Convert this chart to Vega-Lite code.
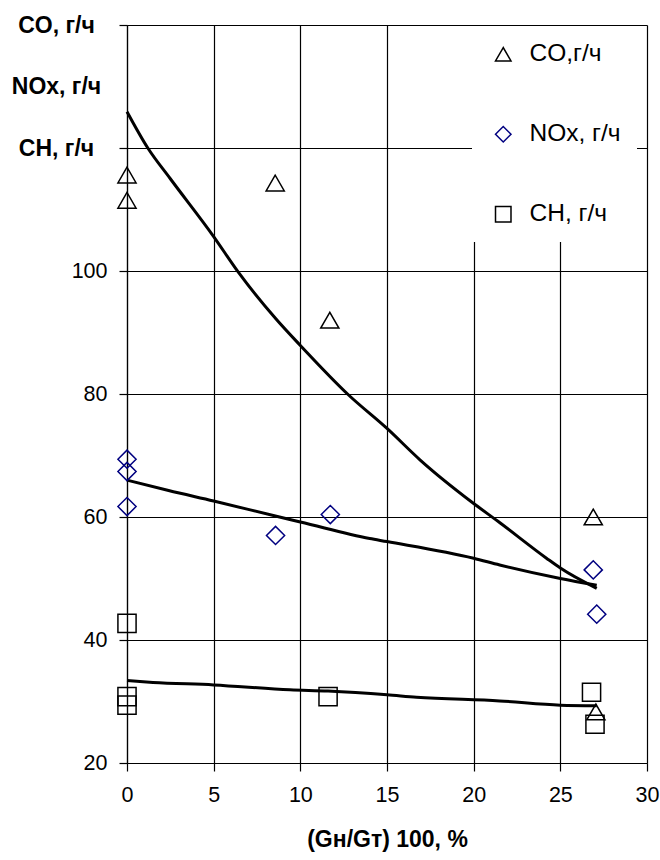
{
  "$schema": "https://vega.github.io/schema/vega-lite/v6.json",
  "width": 520,
  "height": 738,
  "autosize": "none",
  "padding": {"left": 127, "top": 25, "right": 13, "bottom": 97},
  "background": "white",
  "config": {
    "font": "Liberation Sans",
    "view": {"stroke": null},
    "axis": {
      "domainColor": "#000000",
      "domainWidth": 1.2,
      "gridColor": "#000000",
      "gridOpacity": 1,
      "gridWidth": 1.2,
      "tickColor": "#000000",
      "tickWidth": 1.2,
      "tickSize": 8,
      "labelColor": "#000000",
      "labelFontSize": 21.5,
      "labelFont": "Liberation Sans",
      "titleFont": "Liberation Sans",
      "titleColor": "#000000"
    }
  },
  "datasets": {
    "measured": [
      {"series": "CO,г/ч", "share": 0, "value": 115.6},
      {"series": "CO,г/ч", "share": 0, "value": 111.5},
      {"series": "CO,г/ч", "share": 8.55, "value": 114.3},
      {"series": "CO,г/ч", "share": 11.7, "value": 92.0},
      {"series": "CO,г/ч", "share": 26.9, "value": 60.0},
      {"series": "CO,г/ч", "share": 27.05, "value": 28.3},
      {"series": "NOx, г/ч", "share": 0, "value": 69.4},
      {"series": "NOx, г/ч", "share": 0, "value": 67.4},
      {"series": "NOx, г/ч", "share": 0, "value": 61.7},
      {"series": "NOx, г/ч", "share": 8.57, "value": 57.0},
      {"series": "NOx, г/ч", "share": 11.73, "value": 60.4},
      {"series": "NOx, г/ч", "share": 26.9, "value": 51.4},
      {"series": "NOx, г/ч", "share": 27.1, "value": 44.2},
      {"series": "CH, г/ч", "share": 0, "value": 42.7},
      {"series": "CH, г/ч", "share": 0, "value": 30.8},
      {"series": "CH, г/ч", "share": 0, "value": 29.4},
      {"series": "CH, г/ч", "share": 11.6, "value": 30.8},
      {"series": "CH, г/ч", "share": 26.8, "value": 31.5},
      {"series": "CH, г/ч", "share": 27.0, "value": 26.3}
    ],
    "trend": [
      {"curve": "CO", "share": 0, "value": 125.9},
      {"curve": "CO", "share": 1.2, "value": 120.0},
      {"curve": "CO", "share": 2.5, "value": 115.0},
      {"curve": "CO", "share": 5, "value": 105.6},
      {"curve": "CO", "share": 6.4, "value": 99.9},
      {"curve": "CO", "share": 8.6, "value": 92.2},
      {"curve": "CO", "share": 10, "value": 87.9},
      {"curve": "CO", "share": 12.8, "value": 79.8},
      {"curve": "CO", "share": 15, "value": 74.4},
      {"curve": "CO", "share": 16.9, "value": 69.3},
      {"curve": "CO", "share": 20, "value": 62.2},
      {"curve": "CO", "share": 21.4, "value": 59.3},
      {"curve": "CO", "share": 24.2, "value": 53.3},
      {"curve": "CO", "share": 25, "value": 51.7},
      {"curve": "CO", "share": 27.1, "value": 48.4},
      {"curve": "NOx", "share": 0, "value": 66.0},
      {"curve": "NOx", "share": 2.4, "value": 64.3},
      {"curve": "NOx", "share": 5, "value": 62.6},
      {"curve": "NOx", "share": 8.8, "value": 60.0},
      {"curve": "NOx", "share": 10, "value": 59.2},
      {"curve": "NOx", "share": 14, "value": 56.5},
      {"curve": "NOx", "share": 15, "value": 56.0},
      {"curve": "NOx", "share": 20, "value": 53.3},
      {"curve": "NOx", "share": 21.5, "value": 52.2},
      {"curve": "NOx", "share": 25, "value": 50.0},
      {"curve": "NOx", "share": 27.1, "value": 48.9},
      {"curve": "CH", "share": 0, "value": 33.4},
      {"curve": "CH", "share": 1.5, "value": 33.1},
      {"curve": "CH", "share": 5, "value": 32.7},
      {"curve": "CH", "share": 9.4, "value": 31.9},
      {"curve": "CH", "share": 11.6, "value": 31.7},
      {"curve": "CH", "share": 15, "value": 31.1},
      {"curve": "CH", "share": 16.7, "value": 30.7},
      {"curve": "CH", "share": 21.5, "value": 30.1},
      {"curve": "CH", "share": 25, "value": 29.4},
      {"curve": "CH", "share": 27.1, "value": 29.3}
    ]
  },
  "encoding": {
    "x": {
      "field": "share",
      "type": "quantitative",
      "scale": {"domain": [0, 30], "nice": false, "zero": false},
      "axis": {
        "values": [0, 5, 10, 15, 20, 25, 30],
        "grid": true,
        "labelPadding": 13,
        "labelFlush": false,
        "title": "(Gн/Gт) 100, %",
        "titleFontSize": 23,
        "titleFontWeight": "bold",
        "titlePadding": 23
      }
    },
    "y": {
      "field": "value",
      "type": "quantitative",
      "scale": {"domain": [20, 140], "nice": false, "zero": false},
      "axis": {
        "values": [20, 40, 60, 80, 100, 120, 130, 140],
        "grid": true,
        "title": null,
        "labelOverlap": false,
        "labelFlush": false,
        "labelBound": false,
        "labelExpr": "datum.value == 140 ? 'CO, г/ч' : datum.value == 130 ? 'NOx, г/ч' : datum.value == 120 ? 'CH, г/ч' : datum.label",
        "labelFontWeight": {"condition": {"test": "datum.value >= 120", "value": "bold"}, "value": "normal"},
        "labelFontSize": {"condition": {"test": "datum.value >= 120", "value": 23}, "value": 21.5},
        "labelAlign": {"condition": {"test": "datum.value >= 120", "value": "center"}, "value": "right"},
        "labelPadding": {"condition": {"test": "datum.value >= 120", "value": 63}, "value": 12},
        "gridOpacity": {"condition": {"test": "datum.value == 130", "value": 0}, "value": 1},
        "tickOpacity": {"condition": {"test": "datum.value == 130", "value": 0}, "value": 1}
      }
    }
  },
  "layer": [
    {
      "data": {"name": "trend"},
      "mark": {"type": "line", "color": "#000000", "strokeWidth": 3, "interpolate": "monotone"},
      "encoding": {
        "detail": {"field": "curve", "type": "nominal"}
      }
    },
    {
      "data": {"name": "measured"},
      "mark": {"type": "point", "filled": false, "strokeWidth": 1.5, "size": 330, "opacity": 1},
      "encoding": {
        "shape": {
          "field": "series",
          "type": "nominal",
          "scale": {"domain": ["CO,г/ч", "NOx, г/ч", "CH, г/ч"], "range": ["triangle-up", "diamond", "square"]},
          "legend": {
            "title": null,
            "orient": "none",
            "legendX": 345,
            "legendY": 1,
            "fillColor": "white",
            "padding": 16,
            "labelFontSize": 24.5,
            "labelColor": "#000000",
            "labelOffset": 14,
            "rowPadding": 55,
            "symbolOffset": 3,
            "symbolSize": 240,
            "symbolStrokeWidth": 1.5,
            "symbolFillColor": "transparent"
          }
        },
        "color": {
          "field": "series",
          "type": "nominal",
          "scale": {"domain": ["CO,г/ч", "NOx, г/ч", "CH, г/ч"], "range": ["#000000", "#000080", "#000000"]},
          "legend": {
            "title": null,
            "orient": "none",
            "legendX": 345,
            "legendY": 1,
            "fillColor": "white",
            "padding": 16,
            "labelFontSize": 24.5,
            "labelColor": "#000000",
            "labelOffset": 14,
            "rowPadding": 55,
            "symbolOffset": 3,
            "symbolSize": 240,
            "symbolStrokeWidth": 1.5,
            "symbolFillColor": "transparent"
          }
        }
      }
    }
  ]
}
